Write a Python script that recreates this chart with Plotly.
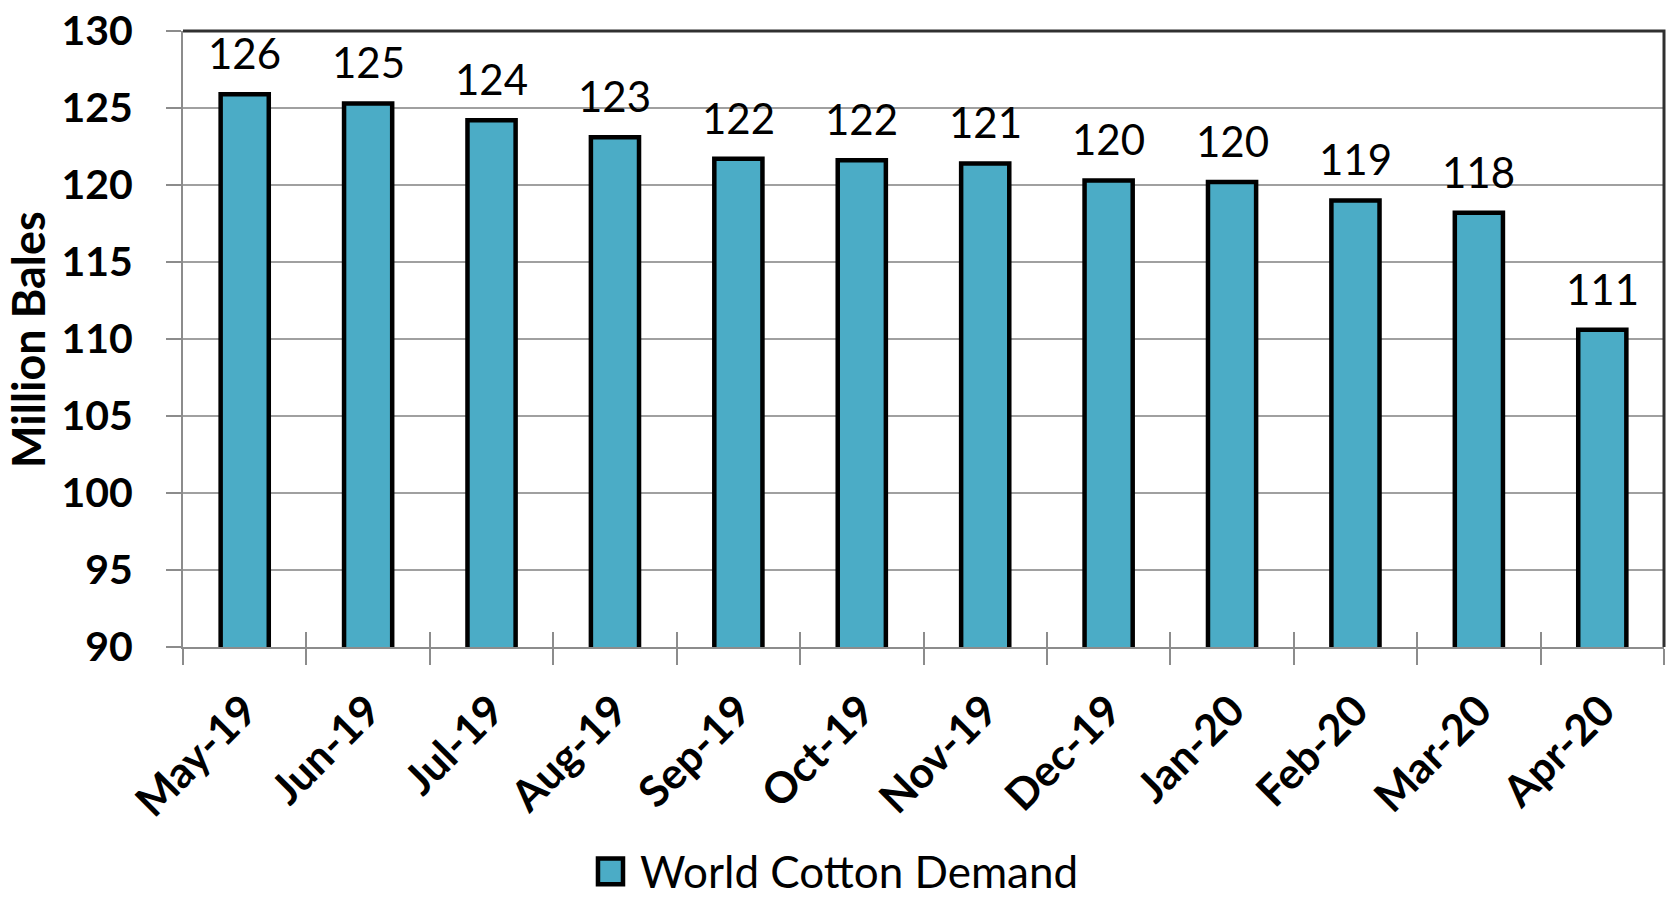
import plotly.graph_objects as go

months = ["May-19", "Jun-19", "Jul-19", "Aug-19", "Sep-19", "Oct-19",
          "Nov-19", "Dec-19", "Jan-20", "Feb-20", "Mar-20", "Apr-20"]
demand = [125.9, 125.3, 124.2, 123.1, 121.7, 121.6,
          121.4, 120.3, 120.2, 119.0, 118.2, 110.6]
series_name = "World Cotton Demand"
y_title = "Million Bales"

BAR_COLOR = "#4BACC6"
GRID = "#A0A0A0"
AXIS = "#8C8C8C"
FONT = "Lato"

fig = go.Figure()
fig.add_trace(go.Bar(
    x=months, y=demand, name=series_name,
    marker=dict(color=BAR_COLOR, line=dict(color="black", width=4.5)),
    width=0.39, showlegend=False, hoverinfo="x+y",
))
# invisible helper trace for the inner half of the category ticks
fig.add_trace(go.Scatter(x=months, y=demand, xaxis="x2", mode="none",
                         showlegend=False, hoverinfo="skip"))

annotations = []
for m, v in zip(months, demand):
    annotations.append(dict(
        x=m, y=v, xref="x", yref="y", text=f"{v:.0f}", showarrow=False,
        yanchor="bottom", yshift=14,
        font=dict(family=FONT, size=42, color="black"),
    ))
# y axis title
annotations.append(dict(
    x=-0.1047, y=0.5, xref="paper", yref="paper", text=y_title,
    textangle=-90, showarrow=False, xanchor="center", yanchor="middle",
    font=dict(family=FONT, size=45, color="black", weight="bold"),
))
# legend text
annotations.append(dict(
    x=0.3072, y=-0.3630, xref="paper", yref="paper", text=series_name,
    showarrow=False, xanchor="left", yanchor="middle",
    font=dict(family=FONT, size=44, color="black"),
))

shapes = [
    # top/right plot border
    dict(type="path", path="M0,1 L1,1 L1,0", xref="paper", yref="paper",
         line=dict(color="#303030", width=3)),
    # legend swatch
    dict(type="rect", xref="paper", yref="paper",
         x0=0.2802, x1=0.2971, y0=-0.3850, y1=-0.3432,
         fillcolor=BAR_COLOR, line=dict(color="black", width=4.5)),
]

fig.update_layout(
    width=1669, height=898,
    margin=dict(l=183, r=5, t=25, b=251),
    paper_bgcolor="white", plot_bgcolor="white",
    font=dict(family=FONT, color="black"),
    annotations=annotations, shapes=shapes,
    showlegend=False,
    xaxis=dict(
        type="category", categoryorder="array", categoryarray=months,
        tickson="boundaries", ticks="outside", ticklen=16, tickwidth=2,
        tickcolor=AXIS, showline=True, linecolor=AXIS, linewidth=2,
        showgrid=False, tickangle=-45, ticklabelstandoff=19,
        tickfont=dict(family=FONT, size=43, color="black", weight="bold"),
    ),
    xaxis2=dict(
        type="category", categoryorder="array", categoryarray=months,
        overlaying="x", matches="x", anchor="y", side="bottom",
        tickson="boundaries", ticks="inside", ticklen=15, tickwidth=2,
        tickcolor=AXIS, showticklabels=False, showgrid=False, showline=False,
    ),
    yaxis=dict(
        range=[90, 130], dtick=5, tick0=90,
        showgrid=True, gridcolor=GRID, gridwidth=2,
        ticks="outside", ticklen=15, tickwidth=2, tickcolor=AXIS,
        showline=True, linecolor=AXIS, linewidth=2, zeroline=False,
        ticklabelstandoff=25, ticklabeloverflow="allow",
        tickfont=dict(family=FONT, size=41, color="black", weight="bold"),
    ),
)

fig.write_html("out.html")
